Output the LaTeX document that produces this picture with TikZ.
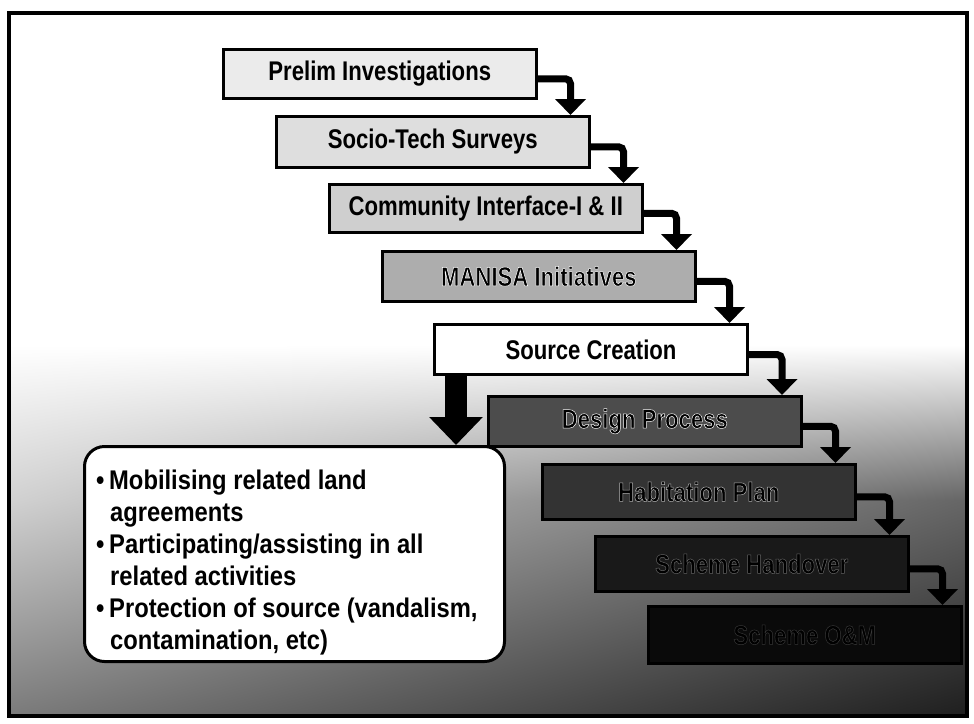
\documentclass[tikz,border=0pt]{standalone}
\usepackage{fontspec}
\setmainfont{Liberation Sans}
\newfontfamily\stepfont[FakeStretch=0.82]{Liberation Sans}
\newfontfamily\halofont[FakeStretch=0.82,FakeBold=1.8]{Liberation Sans}
\newfontfamily\notefont[FakeStretch=0.88]{Liberation Sans}
\usetikzlibrary{arrows.meta,shadings,calc}

% black lettering whose stroked outline takes the grey level #1
\newcommand\haloink[2]{{\halofont\bfseries
  \special{pdf:literal direct #1 G}#2\special{pdf:literal direct 0 G}}}
\newcommand\bul{\makebox[13pt][l]{•}}

\begin{document}
\begin{tikzpicture}[x=1pt,y=-1pt,
  stepbox/.style={draw=black, line width=2.5pt, minimum width=313pt,
    inner sep=0pt, anchor=north west, text=black,
    font=\stepfont\bfseries\fontsize{27}{30}\selectfont},
  conn/.style={line width=7pt, rounded corners=5pt,
    -{Triangle[width=30pt,length=16pt]}},
  drop/.style={line width=22pt, -{Triangle[width=52pt,length=28pt]}},
  notebox/.style={draw=black, line width=3pt, fill=white, rounded corners=20pt,
    minimum width=420pt, minimum height=215pt, anchor=north west, inner sep=0pt},
  notetext/.style={anchor=north west, inner sep=0pt, align=left,
    font=\notefont\bfseries\fontsize{27}{32}\selectfont}]

\useasboundingbox (0,0) rectangle (974,723);
\fill[white] (0,0) rectangle (974,723);

% grey ground darkening towards the lower right
\shade[upper left=white, upper right=white, lower left=black!18, lower right=black!60]
  (9,345) rectangle (967,500);
\shade[upper left=black!18, upper right=black!60, lower left=black!52, lower right=black!88]
  (9,500) rectangle (967,716);

% the steps of the staircase
\node[stepbox, fill=black!8,  minimum height=49pt] (b1) at (222,48)  {Prelim Investigations};
\node[stepbox, fill=black!13, minimum height=51pt] (b2) at (275,115) {Socio-Tech Surveys};
\node[stepbox, fill=black!19, minimum height=48pt] (b3) at (328,183) {Community Interface-I \& II};
\node[stepbox, fill=black!32, minimum height=50pt] (b4) at (381,250) {\haloink{1}{MANISA Initiatives}};
\node[stepbox, fill=white,    minimum height=50pt, line width=3pt] (b5) at (433,323) {Source Creation};
\node[stepbox, fill=black!70, minimum height=50pt] (b6) at (487,395) {\haloink{1}{Design Process}};
\node[stepbox, fill=black!80, minimum height=55pt] (b7) at (541,463) {\haloink{0.7}{Habitation Plan}};
\node[stepbox, fill=black!90, minimum height=55pt] (b8) at (594,535) {\haloink{0.4}{Scheme Handover}};
\node[stepbox, fill=black!96, minimum height=57pt] (b9) at (647,605) {\haloink{0.22}{Scheme O\&M}};

% elbow connectors from each step down to the next
\foreach \i [evaluate=\i as \j using int(\i+1)] in {1,...,8}{
  \coordinate (t\i) at ([xshift=33pt,yshift=-5pt]b\i.east);
  \draw[conn] ([yshift=-5pt]b\i.east) -- (t\i) -- (t\i |- b\j.north);
}

% the note hanging from Source Creation
\node[notebox] (call) at (83,445) {};
\coordinate (dtop) at ([xshift=23pt]b5.south west);
\draw[drop] (dtop) -- (dtop |- call.north);
\node[notetext] (calltext) at (96,470) {%
  \bul Mobilising related land\\
  \hspace*{14pt}agreements\\
  \bul Participating/assisting in all\\
  \hspace*{14pt}related activities\\
  \bul Protection of source (vandalism,\\
  \hspace*{14pt}contamination, etc)};

% outer frame
\draw[line width=3.5pt] (9,13) rectangle (967,716);
\end{tikzpicture}
\end{document}
